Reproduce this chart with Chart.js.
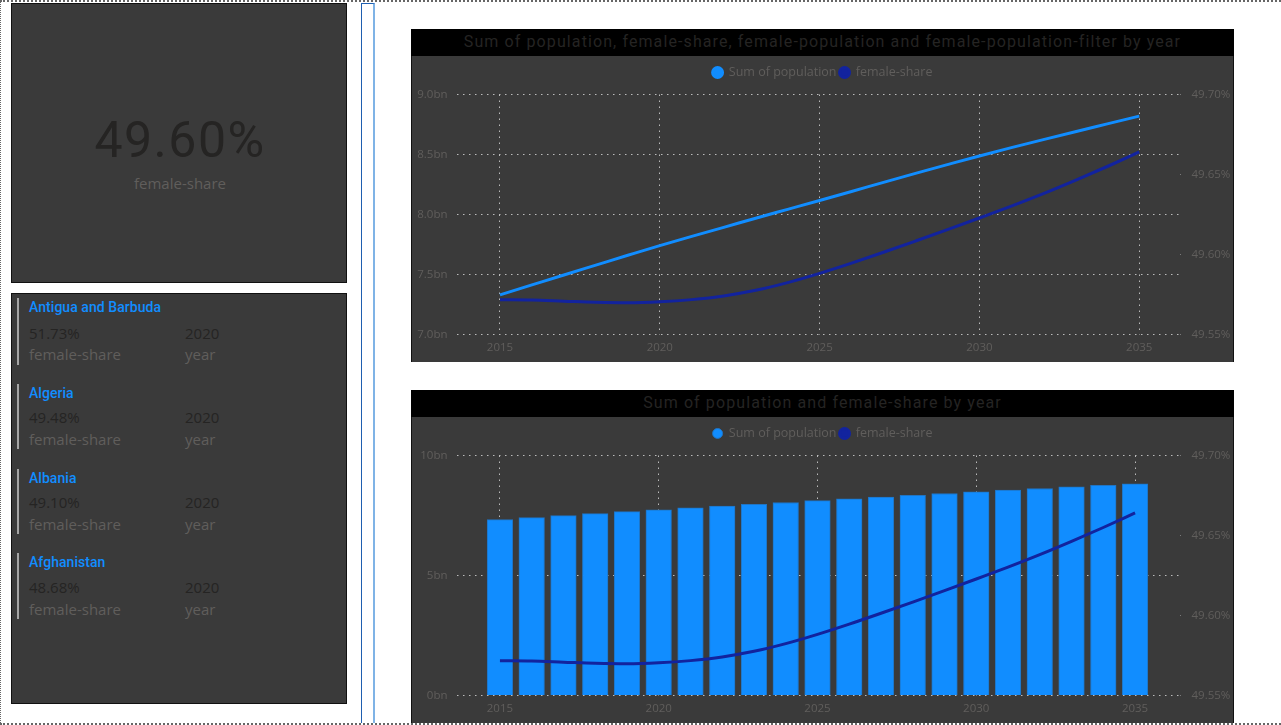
<!DOCTYPE html>
<html>
<head>
<meta charset="utf-8">
<script src="https://cdn.jsdelivr.net/npm/chart.js@4"></script>
<style>
html, body { margin: 0; padding: 0; background: #fff; width: 1281px; height: 725px; overflow: hidden; }
body { font-family: "Open Sans", sans-serif; position: relative; }
.page { position: absolute; left: 0; top: 0; width: 1281px; height: 725px; border-top: 2px dotted #666; border-left: 1px dotted #666; border-bottom: 2px dotted #666; box-sizing: border-box; }
.panel { position: absolute; background: #3a3a3a; border: 1px solid #111; box-sizing: border-box; }
.guide { position: absolute; top: 3px; left: 361px; width: 14px; height: 720px; box-sizing: border-box; border-left: 1px solid #1f5fb0; border-right: 2px solid #7fb3e6; border-top: 1px solid #1f5fb0; }
.kpi { position: absolute; left: 12px; width: 336px; text-align: center; top: 106px; font: 400 50px/68px Roboto, sans-serif; color: #252423; letter-spacing: 1.5px; }
.kpi-label { position: absolute; left: 12px; width: 336px; text-align: center; top: 173px; font-size: 15px; line-height: 20px; color: #605e5c; }
.row-bar { position: absolute; left: 17px; width: 2px; background: #a5a5a5; }
.row-name { position: absolute; left: 29px; font: 500 14px/18px Roboto, sans-serif; color: #118dff; letter-spacing: .05px; }
.row-val, .row-lab { position: absolute; font-size: 15px; line-height: 20px; white-space: nowrap; }
.row-val { color: #252423; }
.row-lab { color: #605e5c; }
.chart-box { position: absolute; left: 411px; width: 823px; background: #3a3a3a; border-left: 1px solid #111; border-right: 1px solid #111; box-sizing: border-box; }
.chart-title { position: absolute; left: 411px; width: 823px; height: 27px; background: #000; color: #252423; text-align: center; font: 16px/25px Roboto, sans-serif; letter-spacing: 1.1px; white-space: nowrap; }
canvas { position: absolute; left: 0; top: 0; }
</style>
</head>
<body>
<div class="page"></div>
<div class="guide"></div>

<div class="panel" style="left:11px;top:3px;width:336px;height:280px"></div>
<div class="kpi" id="kpi"></div>
<div class="kpi-label" id="kpiLabel"></div>
<div class="panel" style="left:11px;top:293px;width:336px;height:411px"></div>
<div id="rows"></div>

<div class="chart-title" style="top:29px" id="title1"></div>
<div class="chart-box" style="top:56px;height:306px"><canvas id="lineChart"></canvas></div>
<div class="chart-title" style="top:390px" id="title2"></div>
<div class="chart-box" style="top:417px;height:306px"><canvas id="comboChart"></canvas></div>

<script>
const years = [2015, 2016, 2017, 2018, 2019, 2020, 2021, 2022, 2023, 2024, 2025, 2026, 2027, 2028, 2029, 2030, 2031, 2032, 2033, 2034, 2035];
const population = [7.33, 7.413, 7.496, 7.578, 7.660, 7.741, 7.818, 7.893, 7.969, 8.043, 8.117, 8.192, 8.268, 8.343, 8.416, 8.488, 8.557, 8.624, 8.690, 8.755, 8.82];
const femaleShare = [49.5717, 49.5715, 49.5708, 49.5701, 49.5698, 49.5704, 49.5718, 49.5741, 49.5776, 49.5824, 49.5882, 49.5946, 49.6014, 49.6084, 49.6155, 49.6228, 49.6302, 49.6380, 49.6463, 49.6550, 49.6641];

const yearTicks = [2015, 2020, 2025, 2030, 2035];
const popTicksLine = [7.0, 7.5, 8.0, 8.5, 9.0];
const popTicksBar = [0, 5, 10];
const shareTicks = [49.55, 49.60, 49.65, 49.70];

const titleLine = 'Sum of population, female-share, female-population and female-population-filter by year';
const titleCombo = 'Sum of population and female-share by year';
const seriesNames = ['Sum of population', 'female-share'];

const kpiValue = '49.60%';
const kpiName = 'female-share';
const rowCountries = ['Antigua and Barbuda', 'Algeria', 'Albania', 'Afghanistan'];
const rowShares = ['51.73%', '49.48%', '49.10%', '48.68%'];
const rowYear = '2020';

const BLUE = '#118dff';
const NAVY = '#12239e';
const TICK = '#605e5c';
const GRID = '#bbbbbb';

document.getElementById('kpi').textContent = kpiValue;
document.getElementById('kpiLabel').textContent = kpiName;
document.getElementById('title1').textContent = titleLine;
document.getElementById('title2').textContent = titleCombo;

// card rows, pixel tops
const rowTops = [[298, 365, 298, 323, 344], [384, 449, 384, 407, 429], [469, 534, 469, 492, 514], [553, 619, 553, 577, 599]];
let rowsHtml = '';
rowCountries.forEach(function(name, i) {
    const t = rowTops[i];
    rowsHtml += '<div class="row-bar" style="top:' + t[0] + 'px;height:' + (t[1] - t[0]) + 'px"></div>';
    rowsHtml += '<div class="row-name" style="top:' + t[2] + 'px">' + name + '</div>';
    rowsHtml += '<div class="row-val" style="left:29px;top:' + t[3] + 'px">' + rowShares[i] + '</div>';
    rowsHtml += '<div class="row-val" style="left:185px;top:' + t[3] + 'px">' + rowYear + '</div>';
    rowsHtml += '<div class="row-lab" style="left:29px;top:' + t[4] + 'px">' + kpiName + '</div>';
    rowsHtml += '<div class="row-lab" style="left:185px;top:' + t[4] + 'px">year</div>';
});
document.getElementById('rows').innerHTML = rowsHtml;

Chart.defaults.font.family = '"Open Sans", sans-serif';
Chart.defaults.animation = false;

// keeps the plot area below the legend at the same height as in the original
const legendSpace = {
    id: 'legendSpace',
    beforeInit(chart) {
        const fit = chart.legend.fit;
        chart.legend.fit = function() {
            fit.bind(chart.legend)();
            this.height = chart.options.plugins.legendSpace.height;
        };
    }
};

function setTicks(list) {
    return function(axis) {
        axis.ticks = list.map(function(v) { return { value: v }; });
    };
}

function buildOptions(xMin, xMax, popMin, popMax, popTicks, popLabel) {
    return {
        responsive: false,
        layout: { padding: 0 },
        plugins: {
            legendSpace: { height: 38.5 },
            tooltip: { enabled: false },
            legend: {
                position: 'top',
                title: { display: true, text: ' ', font: { size: 1 }, padding: { top: 6, bottom: 0 } },
                labels: {
                    usePointStyle: true,
                    pointStyle: 'circle',
                    pointStyleWidth: 10,
                    boxHeight: 7,
                    padding: 3,
                    color: TICK,
                    font: { size: 12.5 },
                    sort: function(a, b) { return a.datasetIndex - b.datasetIndex; }
                }
            }
        },
        scales: {
            x: {
                type: 'linear',
                offset: false,
                min: xMin,
                max: xMax,
                afterBuildTicks: setTicks(yearTicks),
                afterFit: function(axis) { axis.height = 27.5; },
                grid: { offset: false, color: GRID, drawTicks: false },
                border: { display: false, dash: [1.5, 4.5] },
                ticks: { color: TICK, font: { size: 11.5 }, padding: 6, maxRotation: 0, autoSkip: false, callback: function(v) { return String(v); } }
            },
            y: {
                position: 'left',
                min: popMin,
                max: popMax,
                afterBuildTicks: setTicks(popTicks),
                afterFit: function(axis) { axis.width = 44.5; },
                grid: { color: GRID, drawTicks: false },
                border: { display: false, dash: [1.5, 4.5] },
                ticks: { color: TICK, font: { size: 11.5 }, padding: 9, autoSkip: false, callback: popLabel }
            },
            y1: {
                position: 'right',
                min: 49.55,
                max: 49.70,
                afterBuildTicks: setTicks(shareTicks),
                afterFit: function(axis) { axis.width = 53.5; },
                grid: { drawOnChartArea: false, drawTicks: true, tickLength: 1, color: GRID },
                border: { display: false },
                ticks: { color: TICK, font: { size: 11.5 }, padding: 11, autoSkip: false, callback: function(v) { return v.toFixed(2) + '%'; } }
            }
        }
    };
}

function points(values) {
    return years.map(function(y, i) { return { x: y, y: values[i] }; });
}

function lineSet(label, values, color, axis) {
    return {
        type: 'line',
        label: label,
        data: points(values),
        yAxisID: axis,
        borderColor: color,
        backgroundColor: color,
        borderWidth: 3,
        pointRadius: 0,
        cubicInterpolationMode: 'monotone',
        order: 1
    };
}

const canvasLine = document.getElementById('lineChart');
canvasLine.width = 821;
canvasLine.height = 306;
new Chart(canvasLine.getContext('2d'), {
    type: 'line',
    data: {
        datasets: [
            lineSet(seriesNames[0], population, BLUE, 'y'),
            lineSet(seriesNames[1], femaleShare, NAVY, 'y1')
        ]
    },
    options: buildOptions(2013.64, 2036.26, 7, 9, popTicksLine, function(v) { return v.toFixed(1) + 'bn'; }),
    plugins: [legendSpace]
});

const canvasCombo = document.getElementById('comboChart');
canvasCombo.width = 821;
canvasCombo.height = 306;
new Chart(canvasCombo.getContext('2d'), {
    data: {
        datasets: [
            {
                type: 'bar',
                label: seriesNames[0],
                data: points(population),
                yAxisID: 'y',
                backgroundColor: BLUE,
                borderColor: '#1f74c4',
                borderWidth: 1,
                barThickness: 25.6,
                order: 2
            },
            lineSet(seriesNames[1], femaleShare, NAVY, 'y1')
        ]
    },
    options: buildOptions(2013.632, 2036.4, 0, 10, popTicksBar, function(v) { return v + 'bn'; }),
    plugins: [legendSpace]
});
</script>
</body>
</html>
